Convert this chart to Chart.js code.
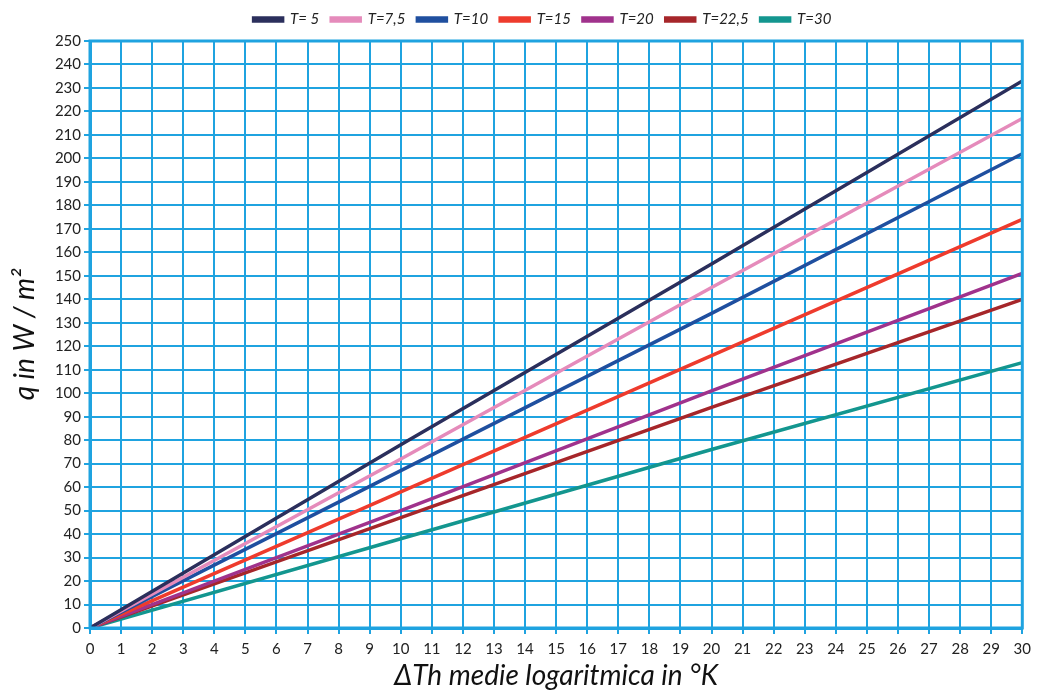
<!DOCTYPE html>
<html>
<head>
<meta charset="utf-8">
<script src="https://cdn.jsdelivr.net/npm/chart.js@4/dist/chart.umd.min.js"></script>
<style>
  html, body { margin: 0; padding: 0; background: #fff; }
  #wrap { width: 1037px; height: 697px; }
</style>
</head>
<body>
<div id="wrap"><canvas id="qChart"></canvas></div>
<script>
// values (x = ΔT, y = q)
var deltaT = [0, 10, 20, 30];
var seriesLabels = ['T= 5', 'T=7,5', 'T=10', 'T=15', 'T=20', 'T=22,5', 'T=30'];
var qT5 = [0, 78, 155, 233];
var qT7_5 = [0, 72, 145, 217];
var qT10 = [0, 67, 134, 202];
var qT15 = [0, 58, 116, 174];
var qT20 = [0, 50, 101, 151];
var qT22_5 = [0, 47, 94, 140];
var qT30 = [0, 38, 76, 113];
var seriesColors = ['#2b2f5c', '#e58bbb', '#1f4f9f', '#ee3b2d', '#a0328c', '#a6262a', '#13968f'];

var gridBlue = '#1fa3e0';
var allSeries = [qT5, qT7_5, qT10, qT15, qT20, qT22_5, qT30];

var datasets = allSeries.map(function (vals, i) {
  return {
    label: seriesLabels[i],
    data: vals.map(function (v, j) { return { x: deltaT[j], y: v }; }),
    borderColor: seriesColors[i],
    backgroundColor: seriesColors[i],
    borderWidth: 3.5,
    pointRadius: 0,
    fill: false,
    tension: 0
  };
});

// outer frame of the plot, a bit more room under the legend, legend nudged right
var framePlugin = {
  id: 'frame',
  beforeLayout: function (chart) {
    var lg = chart.legend;
    if (lg && !lg._extraGap) {
      var fit = lg.fit;
      lg.fit = function () { fit.call(this); this.height += 4; };
      lg._extraGap = true;
    }
  },
  afterLayout: function (chart) {
    chart.legend.left += 28;
    chart.legend.right += 28;
  },
  afterDraw: function (chart) {
    var a = chart.chartArea, ctx = chart.ctx;
    ctx.save();
    ctx.strokeStyle = gridBlue;
    ctx.lineWidth = 3;
    ctx.strokeRect(a.left, a.top, a.right - a.left, a.bottom - a.top);
    ctx.restore();
  }
};

var tickFont = { family: 'Lato', size: 15 };

new Chart(document.getElementById('qChart'), {
  type: 'line',
  data: { datasets: datasets },
  plugins: [framePlugin],
  options: {
    responsive: true,
    maintainAspectRatio: false,
    animation: false,
    layout: { padding: { top: 0, right: 12, left: 4, bottom: 0 } },
    plugins: {
      legend: {
        position: 'top',
        labels: {
          boxWidth: 29,
          boxHeight: 3,
          padding: 12,
          color: '#222',
          font: { family: 'Lato', size: 15, style: 'italic' }
        }
      },
      tooltip: { enabled: false }
    },
    scales: {
      x: {
        type: 'linear',
        min: 0,
        max: 30,
        afterFit: function (s) { s.height = 69; },
        ticks: { stepSize: 1, color: '#222', font: tickFont, padding: 6 },
        grid: { color: gridBlue, lineWidth: 2, tickLength: 6 },
        border: { color: gridBlue, width: 3 },
        title: {
          display: true,
          text: 'ΔTh medie logaritmica in °K',
          color: '#111',
          font: { family: 'Lato', size: 28, style: 'italic' },
          padding: { top: 2 }
        }
      },
      y: {
        min: 0,
        max: 250,
        afterFit: function (s) { s.width = 86; },
        ticks: { stepSize: 10, color: '#222', font: tickFont, padding: 3 },
        grid: { color: gridBlue, lineWidth: 2, tickLength: 6 },
        border: { color: gridBlue, width: 3 },
        title: {
          display: true,
          text: 'q in W / m²',
          color: '#111',
          font: { family: 'Lato', size: 28, style: 'italic' },
          padding: { bottom: 4 }
        }
      }
    }
  }
});
</script>
</body>
</html>
